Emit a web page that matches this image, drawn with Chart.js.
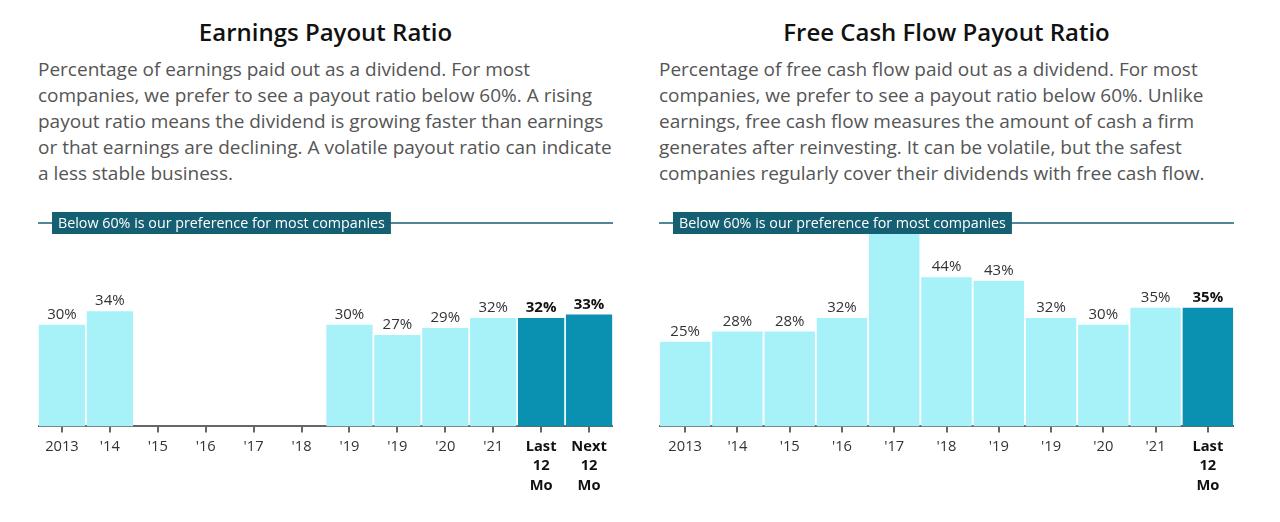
<!DOCTYPE html>
<html>
<head>
<meta charset="utf-8">
<script src="https://cdn.jsdelivr.net/npm/chart.js@4/dist/chart.umd.min.js"></script>
<style>
  body { margin: 0; background: #fff; font-family: 'Open Sans', sans-serif; }
  .panel { position: absolute; top: 0; width: 575px; }
  .panel h2 { margin: 0; position: absolute; top: 13px; left: 0; width: 575px; text-align: center;
    font-size: 24px; font-weight: 600; color: #111; line-height: 38px; }
  .panel p { margin: 0; position: absolute; top: 56px; left: 0; width: 580px;
    font-size: 19px; line-height: 26px; color: #555; }
  .panel .box { position: absolute; top: 205px; left: 0; width: 575px; height: 295px; }
</style>
</head>
<body>
<div class="panel" style="left:38px">
  <h2>Earnings Payout Ratio</h2>
  <p>Percentage of earnings paid out as a dividend. For most companies, we prefer to see a payout ratio below 60%. A rising payout ratio means the dividend is growing faster than earnings or that earnings are declining. A volatile payout ratio can indicate a less stable business.</p>
  <div class="box"><canvas id="earnChart"></canvas></div>
</div>
<div class="panel" style="left:659px">
  <h2>Free Cash Flow Payout Ratio</h2>
  <p>Percentage of free cash flow paid out as a dividend. For most companies, we prefer to see a payout ratio below 60%. Unlike earnings, free cash flow measures the amount of cash a firm generates after reinvesting. It can be volatile, but the safest companies regularly cover their dividends with free cash flow.</p>
  <div class="box"><canvas id="fcfChart"></canvas></div>
</div>
<script>
'use strict';
const earnLabels = ['2013', "'14", "'15", "'16", "'17", "'18", "'19", "'19", "'20", "'21", 'Last 12 Mo', 'Next 12 Mo'];
const earnValues = [30, 34, null, null, null, null, 30, 27, 29, 32, 32, 33];
const fcfLabels = ['2013', "'14", "'15", "'16", "'17", "'18", "'19", "'19", "'20", "'21", 'Last 12 Mo'];
const fcfValues = [25, 28, 28, 32, 66, 44, 43, 32, 30, 35, 35];
const prefLimit = 60;
const prefText = 'Below 60% is our preference for most companies';

const lightColor = '#a7f1f9';
const darkColor = '#0a91b1';
const teal = '#155f73';

// value labels above bars
const barLabels = {
  id: 'barLabels',
  afterDatasetsDraw(chart) {
    const ctx = chart.ctx;
    const meta = chart.getDatasetMeta(0);
    const data = chart.data.datasets[0].data;
    const nLight = chart.options.plugins.barLabels.light;
    ctx.save();
    ctx.textAlign = 'center';
    ctx.textBaseline = 'alphabetic';
    meta.data.forEach(function (bar, i) {
      const v = data[i];
      if (v === null || v >= prefLimit) return;
      const bold = i >= nLight;
      ctx.font = (bold ? 'bold ' : '') + '15px "Open Sans"';
      ctx.fillStyle = bold ? '#111' : '#333';
      ctx.fillText(v + '%', bar.x, bar.y - 6);
    });
    ctx.restore();
  }
};

// 60% preference line with label
const prefLine = {
  id: 'prefLine',
  afterDatasetsDraw(chart) {
    const ctx = chart.ctx;
    const y = chart.scales.y.getPixelForValue(prefLimit);
    const area = chart.chartArea;
    ctx.save();
    ctx.strokeStyle = teal;
    ctx.lineWidth = 1.5;
    ctx.beginPath();
    ctx.moveTo(area.left, y);
    ctx.lineTo(area.right, y);
    ctx.stroke();
    ctx.font = '14.3px "Open Sans"';
    const w = ctx.measureText(prefText).width;
    const bx = area.left + 14;
    ctx.fillStyle = teal;
    ctx.fillRect(bx, y - 11, w + 12, 22);
    ctx.fillStyle = '#fff';
    ctx.textBaseline = 'middle';
    ctx.fillText(prefText, bx + 6, y + 1);
    ctx.restore();
  }
};

function makeChart(id, labels, values, nLight) {
  const colors = values.map(function (v, i) { return i < nLight ? lightColor : darkColor; });
  return new Chart(document.getElementById(id).getContext('2d'), {
    type: 'bar',
    data: {
      labels: labels.map(function (l) { return l.indexOf(' ') > 0 ? l.split(' ') : l; }),
      datasets: [{
        data: values,
        backgroundColor: colors,
        borderWidth: 0,
        barPercentage: 0.965,
        categoryPercentage: 1
      }]
    },
    options: {
      responsive: true,
      maintainAspectRatio: false,
      animation: false,
      layout: { padding: { top: 18, left: 0, right: 0, bottom: 0 } },
      plugins: {
        legend: { display: false },
        tooltip: { enabled: false },
        barLabels: { light: nLight }
      },
      scales: {
        x: {
          grid: { display: true, drawOnChartArea: false, drawTicks: true, tickLength: 6, offset: false, color: '#666', lineWidth: 2 },
          border: { display: true, color: '#666', width: 2 },
          ticks: {
            color: function (c) { return c.index >= nLight ? '#111' : '#333'; },
            font: function (c) { return { family: 'Open Sans', size: 14.7, weight: c.index >= nLight ? 'bold' : 'normal', lineHeight: 1.35 }; },
            padding: 4,
            maxRotation: 0,
            autoSkip: false
          }
        },
        y: {
          display: false,
          min: 0,
          max: prefLimit
        }
      }
    },
    plugins: [barLabels, prefLine]
  });
}

makeChart('earnChart', earnLabels, earnValues, 10);
makeChart('fcfChart', fcfLabels, fcfValues, 10);
</script>
</body>
</html>
